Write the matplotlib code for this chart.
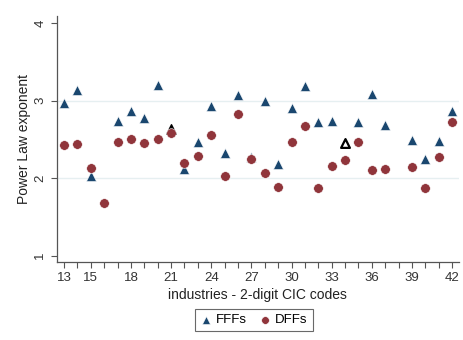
import matplotlib.pyplot as plt
import numpy as np

plt.rcParams['font.family'] = ['Liberation Sans', 'DejaVu Sans']

# FFFs (triangles) - industry code and exponent
fff_x = [13, 14, 15, 17, 18, 19, 20, 22, 23, 24, 25, 26, 27, 28, 29, 30,
         31, 32, 33, 35, 36, 37, 39, 40, 41, 42]
fff_y = [2.97, 3.14, 2.03, 2.73, 2.87, 2.78, 3.20, 2.12, 2.47, 2.93, 2.32, 3.07,
         2.27, 3.00, 2.18, 2.90, 3.19, 2.72, 2.73, 2.72, 3.08, 2.68, 2.49, 2.24,
         2.48, 2.86]
# highlighted FFFs
hl_x = [21, 34]
hl_y = [2.63, 2.45]

# DFFs (circles)
dff_x = [13, 14, 15, 16, 17, 18, 19, 20, 21, 22, 23, 24, 25, 26, 27, 28, 29,
         30, 31, 32, 33, 34, 35, 36, 37, 39, 40, 41, 42]
dff_y = [2.43, 2.44, 2.13, 1.68, 2.47, 2.51, 2.45, 2.51, 2.58, 2.19, 2.28, 2.55,
         2.02, 2.82, 2.24, 2.07, 1.89, 2.47, 2.67, 1.87, 2.15, 2.23, 2.46, 2.11,
         2.12, 2.14, 1.87, 2.27, 2.72]

xticks = [13, 15, 18, 21, 24, 27, 30, 33, 36, 39, 42]

navy = '#1a476f'
maroon = '#90353b'

fig = plt.figure(figsize=(4.64, 3.4), dpi=100)
ax = fig.add_axes([0.122, 0.23, 0.867, 0.723])

for g in [2, 3]:
    ax.axhline(g, color='#e6eff1', lw=1.0, zorder=0)

ax.scatter(hl_x[:1], hl_y[:1], marker='^', s=48, color='black', zorder=2)
ax.scatter(hl_x[1:], hl_y[1:], marker='^', s=40, facecolor='white',
           edgecolor='black', linewidths=1.6, zorder=2)
ax.scatter(fff_x, fff_y, marker='^', s=52, color=navy, edgecolor='white',
           linewidths=0.4, zorder=3, label='FFFs')
ax.scatter(dff_x, dff_y, marker='o', s=48, color=maroon, edgecolor='white',
           linewidths=0.4, zorder=3, label='DFFs')

ax.set_xlim(12.45, 42.5)
ax.set_ylim(0.92, 4.09)
ax.set_xticks(np.arange(13, 43))
ax.set_xticklabels([str(t) if t in xticks else '' for t in range(13, 43)])
ax.set_yticks([1, 2, 3, 4])
ax.set_yticklabels(['1', '2', '3', '4'], rotation=90, va='center')

for s in ['top', 'right']:
    ax.spines[s].set_visible(False)
for s in ['left', 'bottom']:
    ax.spines[s].set_color('#555555')
    ax.spines[s].set_linewidth(0.9)
ax.tick_params(colors='#555555', labelcolor='#333333', labelsize=9.5,
               length=4, width=0.8)

ax.set_xlabel('industries - 2-digit CIC codes', fontsize=10, color='#222222',
              labelpad=3)
ax.set_ylabel('Power Law exponent', fontsize=10, color='#222222', labelpad=2)

leg = ax.legend(loc='upper center', bbox_to_anchor=(0.49, -0.19), ncol=2,
                frameon=True, fancybox=False, fontsize=9.5, handletextpad=0.3,
                columnspacing=0.9, borderpad=0.4, handlelength=0.9,
                borderaxespad=0.0, scatterpoints=1, markerscale=0.8)
leg.get_frame().set_edgecolor('#444444')
leg.get_frame().set_linewidth(0.8)

fig.savefig('out.png', dpi=100)
